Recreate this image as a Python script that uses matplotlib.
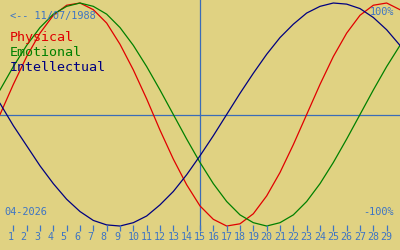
import matplotlib
matplotlib.use("Agg")
import matplotlib.pyplot as plt
import matplotlib.transforms as mtransforms

# values, one per day (day 0 .. day 30)
days = list(range(0, 31))
physical = [0.0, 0.27, 0.52, 0.73, 0.89, 0.98, 1.0, 0.94, 0.82, 0.63,
            0.40, 0.14, -0.14, -0.40, -0.63, -0.82, -0.94, -1.0, -0.98, -0.89,
            -0.73, -0.52, -0.27, 0.0, 0.27, 0.52, 0.73, 0.89, 0.98, 1.0, 0.94]
emotional = [0.22, 0.43, 0.62, 0.78, 0.90, 0.97, 1.0, 0.97, 0.90, 0.78,
             0.62, 0.43, 0.22, 0.0, -0.22, -0.43, -0.62, -0.78, -0.90, -0.97,
             -1.0, -0.97, -0.90, -0.78, -0.62, -0.43, -0.22, 0.0, 0.22, 0.43, 0.62]
intellectual = [0.10, -0.10, -0.28, -0.46, -0.62, -0.76, -0.87, -0.95, -0.99, -1.0,
                -0.97, -0.91, -0.81, -0.69, -0.54, -0.37, -0.19, 0.0, 0.19, 0.37,
                0.54, 0.69, 0.81, 0.91, 0.97, 1.0, 0.99, 0.95, 0.87, 0.76, 0.62]

tick_days = list(range(1, 30))
today = 15
birth_label = "<-- 11/07/1988"
month_label = "04-2026"
series_names = ["Physical", "Emotional", "Intellectual"]
series_colors = ["#e00000", "#008000", "#000080"]

bg = "#e0d282"
txt_blue = "#3d74c4"
line_blue = "#3a6cb8"

fig = plt.figure(figsize=(4, 2.5), dpi=100, facecolor=bg)
ax = fig.add_axes([0, 0, 1, 1], facecolor=bg)
ax.set_xlim(0, 30)
ax.set_ylim(-1.215, 1.027)
ax.axis("off")

# zero line and "today" marker
ax.axhline(0, color=line_blue, lw=0.9)
ax.axvline(today, ymin=0.085, ymax=1, color=line_blue, lw=0.9)

for vals, col in zip([physical, emotional, intellectual], series_colors):
    ax.plot(days, vals, color=col, lw=0.9)

# day ticks along the bottom
trans = mtransforms.blended_transform_factory(ax.transData, ax.transAxes)
ax.vlines(tick_days, 0.078, 0.10, color=txt_blue, lw=0.9, transform=trans)
lab_off = mtransforms.offset_copy(trans, fig=fig, x=-6, units="dots")
for d in tick_days:
    ax.text(d, 0.05, str(d), transform=lab_off, ha="left", va="center",
            color=txt_blue, fontsize=7.2, family="DejaVu Sans Mono")

mono = dict(family="DejaVu Sans Mono", transform=fig.transFigure)
fig.text(10 / 400, 1 - 16 / 250, birth_label, color=txt_blue, fontsize=7.4,
         ha="left", va="center", **mono)
for i, (name, col) in enumerate(zip(series_names, series_colors)):
    fig.text(10 / 400, 1 - (37.5 + 15 * i) / 250, name, color=col, fontsize=9.6,
             ha="left", va="center", **mono)
fig.text(394 / 400, 1 - 12 / 250, "100%", color=txt_blue, fontsize=7.4,
         ha="right", va="center", **mono)
fig.text(394 / 400, 1 - 212 / 250, "-100%", color=txt_blue, fontsize=7.4,
         ha="right", va="center", **mono)
fig.text(4 / 400, 1 - 212 / 250, month_label, color=txt_blue, fontsize=7.4,
         ha="left", va="center", **mono)

fig.savefig("out.png", dpi=100, facecolor=bg)
